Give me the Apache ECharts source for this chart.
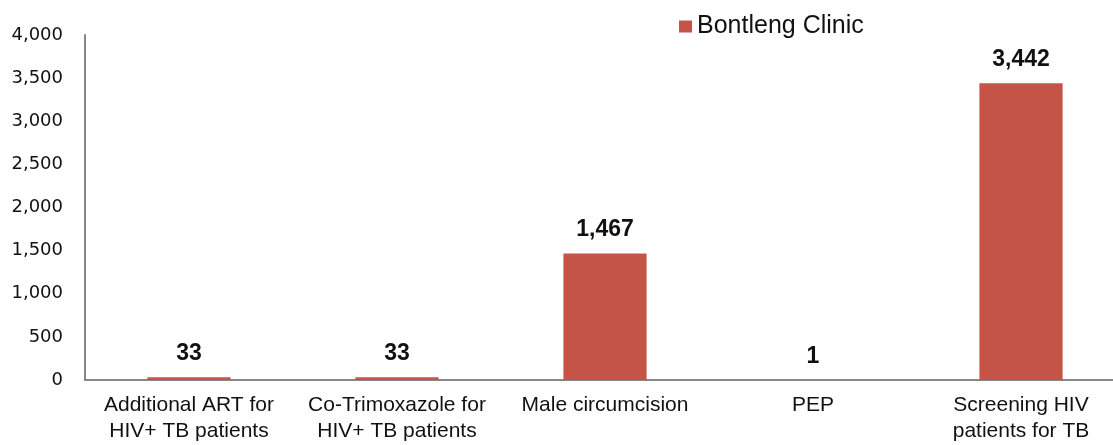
<!DOCTYPE html>
<html>
<head>
<meta charset="utf-8">
<script src="https://cdn.jsdelivr.net/npm/echarts@6/dist/echarts.min.js"></script>
<style>
  html, body { margin: 0; padding: 0; background: #fff; }
  #chart { width: 1113px; height: 445px; }
</style>
</head>
<body>
<div id="chart"></div>
<script>
var dom = document.getElementById('chart');
var myChart = echarts.init(dom, null, { renderer: 'canvas' });

let categories = [
    'Additional ART for\nHIV+ TB patients',
    'Co-Trimoxazole for\nHIV+ TB patients',
    'Male circumcision',
    'PEP',
    'Screening HIV\npatients for TB'
];
let seriesName = 'Bontleng Clinic';
let values = [33, 33, 1467, 1, 3442];
let yMin = 0, yMax = 4000, yStep = 500;

function fmt(v) {
    return String(v).replace(/\B(?=(\d{3})+(?!\d))/g, ',');
}

var option = {
    backgroundColor: '#fff',
    animation: false,
    legend: {
        data: [seriesName],
        left: 674,
        top: 9,
        itemWidth: 13,
        itemHeight: 12,
        icon: 'rect',
        textStyle: {
            fontFamily: 'Liberation Sans',
            fontSize: 25,
            color: '#111'
        }
    },
    grid: {
        left: 85,
        right: -12,
        top: 35,
        bottom: 65,
        outerBoundsMode: 'none'
    },
    xAxis: {
        type: 'category',
        data: categories,
        axisLine: { lineStyle: { color: '#878787', width: 2 } },
        axisTick: { show: false },
        axisLabel: {
            interval: 0,
            margin: 12,
            fontFamily: 'Liberation Sans',
            fontSize: 21,
            lineHeight: 26,
            color: '#111'
        }
    },
    yAxis: {
        type: 'value',
        min: yMin,
        max: yMax,
        interval: yStep,
        axisLine: { show: true, lineStyle: { color: '#878787', width: 2 } },
        axisTick: { show: false },
        splitLine: { show: false },
        axisLabel: {
            margin: 22,
            fontFamily: 'DejaVu Sans',
            fontSize: 18,
            color: '#111',
            formatter: fmt
        }
    },
    series: [
        {
            name: seriesName,
            type: 'bar',
            barWidth: '40%',
            itemStyle: { color: '#C55448' },
            label: {
                show: true,
                position: 'top',
                distance: 12,
                fontFamily: 'Liberation Sans',
                fontWeight: 'bold',
                fontSize: 23,
                color: '#111',
                formatter: function (p) { return fmt(p.value); }
            },
            data: values
        }
    ]
};
myChart.setOption(option);
window.addEventListener('resize', myChart.resize);
</script>
</body>
</html>
